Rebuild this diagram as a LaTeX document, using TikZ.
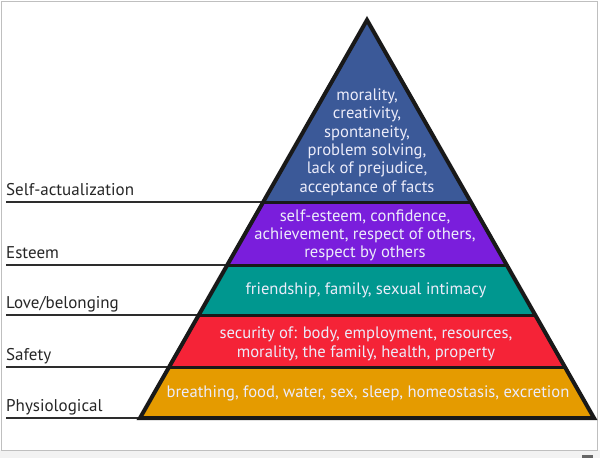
\documentclass[tikz,border=0pt]{standalone}
\usepackage{fontspec}
\setmainfont{PT Sans}
\usetikzlibrary{calc}
\definecolor{cblue}{RGB}{59,89,152}
\definecolor{cpurple}{RGB}{122,30,220}
\definecolor{cteal}{RGB}{0,151,143}
\definecolor{cred}{RGB}{245,35,55}
\definecolor{corange}{RGB}{229,155,0}
\definecolor{ctext}{RGB}{236,236,250}
\definecolor{cline}{RGB}{45,45,45}
\begin{document}
\begin{tikzpicture}[x=1pt,y=-1pt,
  lvl/.style={font=\fontsize{17}{20}\selectfont, anchor=base west, inner sep=0pt, text=black!85},
  ptxt/.style={font=\fontsize{16.6}{18}\selectfont, anchor=base, inner sep=0pt, text=ctext},
  labline/.style={draw=cline, line width=2.5pt},
  sepline/.style={draw=black!90, line width=3pt},
  outline/.style={draw=black!90, line width=4pt, line join=miter}]
\useasboundingbox (0,0) rectangle (600,458);
\fill[black!5] (0,450) rectangle (600,458);
\draw[black!25, line width=1pt] (1.5,1.5) rectangle (597.5,450);
\fill[black!60] (582,455) rectangle (593,458);

\coordinate (apex) at (367,20);
\coordinate (bl) at (140,418);
\coordinate (br) at (594,418);
\coordinate (lm) at (6,0);
\coordinate (L1) at ($(apex)!0.4573!(bl)$);
\coordinate (R1) at ($(apex)!0.4573!(br)$);
\coordinate (L2) at ($(apex)!0.6156!(bl)$);
\coordinate (R2) at ($(apex)!0.6156!(br)$);
\coordinate (L3) at ($(apex)!0.7412!(bl)$);
\coordinate (R3) at ($(apex)!0.7412!(br)$);
\coordinate (L4) at ($(apex)!0.8719!(bl)$);
\coordinate (R4) at ($(apex)!0.8719!(br)$);

\fill[cblue] (apex) -- (R1) -- (L1) -- cycle;
\fill[cpurple] (L1) -- (R1) -- (R2) -- (L2) -- cycle;
\fill[cteal] (L2) -- (R2) -- (R3) -- (L3) -- cycle;
\fill[cred] (L3) -- (R3) -- (R4) -- (L4) -- cycle;
\fill[corange] (L4) -- (R4) -- (br) -- (bl) -- cycle;

\draw[labline] (lm |- L1) -- (L1);
\draw[labline] (lm |- L2) -- (L2);
\draw[labline] (lm |- L3) -- (L3);
\draw[labline] (lm |- L4) -- (L4);
\draw[labline] (lm |- bl) -- (bl);
\draw[sepline] (L1) -- (R1);
\draw[sepline] (L2) -- (R2);
\draw[sepline] (L3) -- (R3);
\draw[sepline] (L4) -- (R4);
\draw[outline] (apex) -- (br) -- (bl) -- cycle;

\node[lvl] (sa) at (6,195) {Self-actualization};
\node[lvl] (es) at (6,258) {Esteem};
\node[lvl] (lb) at (6,308) {Love/belonging};
\node[lvl] (sf) at (6,360) {Safety};
\node[lvl] (ph) at (6,411) {Physiological};

\node[ptxt] (b1) at (367,100) {morality,};
\node[ptxt] (b2) at (367,118.5) {creativity,};
\node[ptxt] (b3) at (367,137) {spontaneity,};
\node[ptxt] (b4) at (367,155) {problem solving,};
\node[ptxt] (b5) at (367,173.5) {lack of prejudice,};
\node[ptxt] (b6) at (367,192) {acceptance of facts};
\node[ptxt] (p1) at (365,221) {self-esteem, confidence,};
\node[ptxt] (p2) at (365,239) {achievement, respect of others,};
\node[ptxt] (p3) at (365,257) {respect by others};
\node[ptxt] (t1) at (366,294) {friendship, family, sexual intimacy};
\node[ptxt] (r1) at (366,338) {security of: body, employment, resources,};
\node[ptxt] (r2) at (366,357) {morality, the family, health, property};
\node[ptxt] (o1) at (368,397) {breathing, food, water, sex, sleep, homeostasis, excretion};
\end{tikzpicture}
\end{document}
